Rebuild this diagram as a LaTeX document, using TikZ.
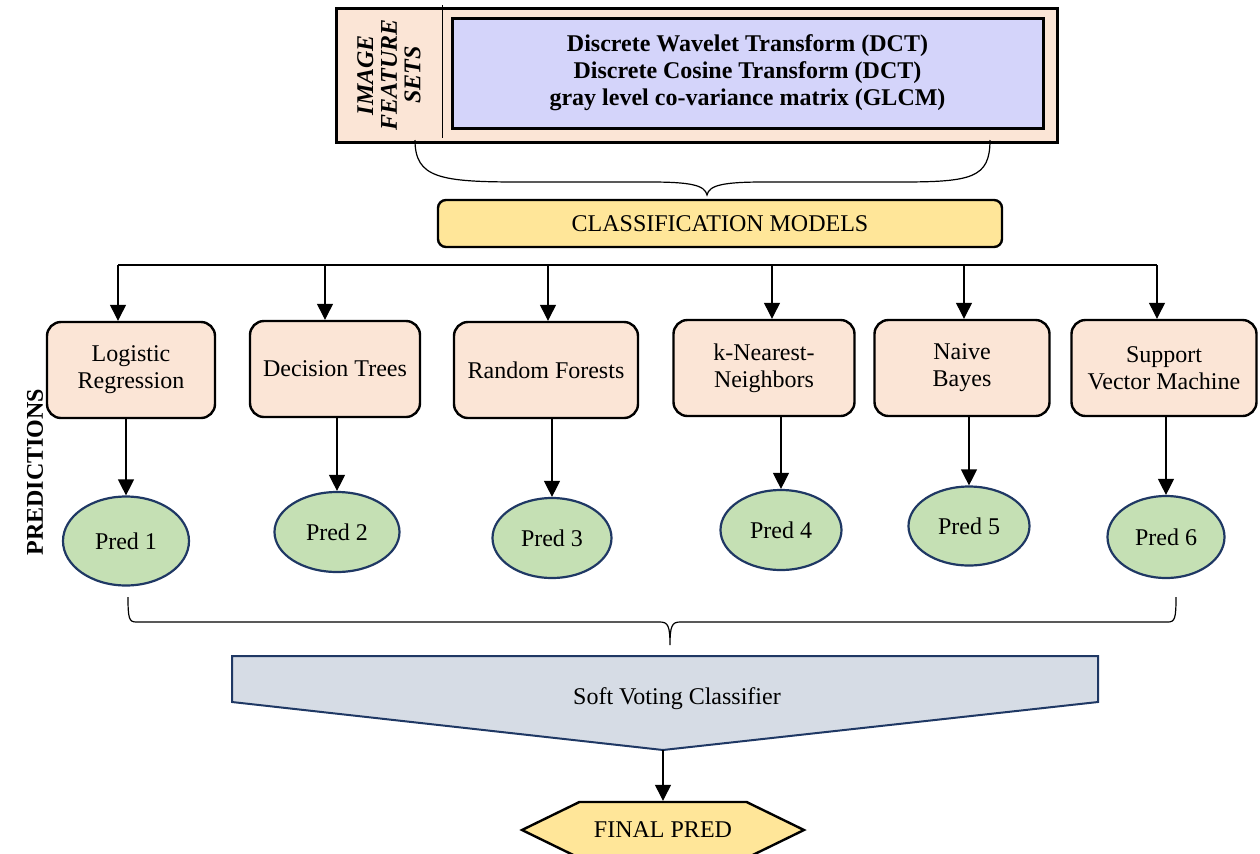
\documentclass[tikz,border=0pt]{standalone}
\usepackage{fontspec}
\setmainfont{Liberation Serif}
\usetikzlibrary{shapes.geometric,shapes.symbols,arrows.meta}
\definecolor{peach}{HTML}{FBE5D6}
\definecolor{lavender}{RGB}{212,212,250}
\definecolor{gold}{HTML}{FFE699}
\definecolor{predgreen}{HTML}{C5E0B4}
\definecolor{navy}{HTML}{1F3864}
\definecolor{votegray}{HTML}{D6DCE5}
\tikzset{
  modelbox/.style={shape=rectangle,rounded corners=7pt,draw=black,line width=1.2pt,
    fill=peach,minimum height=48pt,align=center,inner sep=2pt},
  prednode/.style={shape=ellipse,draw=navy,line width=1.1pt,fill=predgreen,inner sep=0pt},
  flow/.style={-{Triangle[length=8pt,width=8pt]},line width=0.6pt},
  sidelabel/.style={rotate=90,align=center},
}
\begin{document}
\begin{tikzpicture}[x=0.5pt,y=-0.5pt,font=\fontsize{12}{13.5}\selectfont]
        \useasboundingbox (0,0) rectangle (1260,853);

        % feature sets
        \node[shape=rectangle,draw=black,line width=1.5pt,fill=peach,minimum width=360.5pt,minimum height=67pt] (feat) at (696.5,75) {};
        \draw[line width=0.5pt] (442,5) -- (442,138);
        \node[sidelabel,font=\bfseries\itshape\fontsize{12}{11.8}\selectfont] (featlabel) at (389,75) {IMAGE\\FEATURE\\SETS};
        \node[shape=rectangle,draw=black,line width=1.5pt,fill=lavender,minimum width=295.5pt,minimum height=55pt,align=center,font=\bfseries\fontsize{12}{13.5}\selectfont] (featlist) at (747.5,73) {Discrete Wavelet Transform (DCT)\\Discrete Cosine Transform (DCT)\\gray level co-variance matrix (GLCM)};
        \draw[line width=0.6pt] (415,140) .. controls (415,178) and (440,182) .. (520,182) -- (650,182)
          .. controls (690,182) and (705,185) .. (707,195) .. controls (709,185) and (724,182) .. (764,182)
          -- (900,182) .. controls (972,182) and (990,178) .. (990,140);

        \node[shape=rectangle,rounded corners=4pt,draw=black,line width=1.2pt,fill=gold,minimum width=282pt,minimum height=23.5pt] (models) at (720,223.5) {CLASSIFICATION MODELS};

        % models
        \node[modelbox,minimum width=84pt] (m1) at (131,370) {Logistic\\Regression};
        \node[modelbox,minimum width=85pt] (m2) at (335,369) {Decision Trees};
        \node[modelbox,minimum width=92pt] (m3) at (546,370) {Random Forests};
        \node[modelbox,minimum width=90.5pt] (m4) at (764,368) {k-Nearest-\\Neighbors};
        \node[modelbox,minimum width=87.5pt] (m5) at (962,368) {Naive\\Bayes};
        \node[modelbox,minimum width=92.5pt] (m6) at (1164,368) {Support\\Vector Machine};

        \coordinate (split1) at (118,265);
        \coordinate (split2) at (325,265);
        \coordinate (split3) at (548,265);
        \coordinate (split4) at (772,265);
        \coordinate (split5) at (964,265);
        \coordinate (split6) at (1157,265);
        \draw[line width=0.6pt] (split1) -- (split6);

        \path[flow]
        (split1) edge (split1 |- m1.north)
        (split2) edge (split2 |- m2.north)
        (split3) edge (split3 |- m3.north)
        (split4) edge (split4 |- m4.north)
        (split5) edge (split5 |- m5.north)
        (split6) edge (split6 |- m6.north)
        ;

        % predictions
        \node[sidelabel,font=\bfseries\fontsize{12}{13.5}\selectfont] (predlabel) at (35,472) {PREDICTIONS};
        \node[prednode,minimum width=63pt,minimum height=44.5pt] (p1) at (126,541) {Pred 1};
        \node[prednode,minimum width=62.5pt,minimum height=40pt] (p2) at (337,532) {Pred 2};
        \node[prednode,minimum width=59.5pt,minimum height=40pt] (p3) at (552,538) {Pred 3};
        \node[prednode,minimum width=60.5pt,minimum height=40pt] (p4) at (781,530) {Pred 4};
        \node[prednode,minimum width=60.5pt,minimum height=39.5pt] (p5) at (969,526) {Pred 5};
        \node[prednode,minimum width=58.5pt,minimum height=41pt] (p6) at (1166,537) {Pred 6};

        \path[flow]
        (p1.north |- m1.south) edge (p1.north)
        (p2.north |- m2.south) edge (p2.north)
        (p3.north |- m3.south) edge (p3.north)
        (p4.north |- m4.south) edge (p4.north)
        (p5.north |- m5.south) edge (p5.north)
        (p6.north |- m6.south) edge (p6.north)
        ;

        \draw[line width=0.6pt] (128,597) .. controls (128,618) and (129,622) .. (136,622) -- (660,622)
          .. controls (668,622) and (670,626) .. (670,645) .. controls (670,626) and (672,622) .. (680,622)
          -- (1168,622) .. controls (1175,622) and (1176,618) .. (1176,597);

        % voting
        \draw[draw=navy,line width=1pt,fill=votegray] (232,656) -- (1098,656) -- (1098,702) -- (663,750) -- (232,702) -- cycle;
        \node (vote) at (677,699) {Soft Voting Classifier};
        \coordinate (votetip) at (663,750);

        \node[shape=signal,signal to=west and east,signal pointer angle=52,draw=black,line width=1.2pt,fill=gold,minimum width=141pt,minimum height=28pt] (final) at (663,830) {FINAL PRED};

        \path[flow]
        (votetip) edge (final.north);
\end{tikzpicture}
\end{document}
